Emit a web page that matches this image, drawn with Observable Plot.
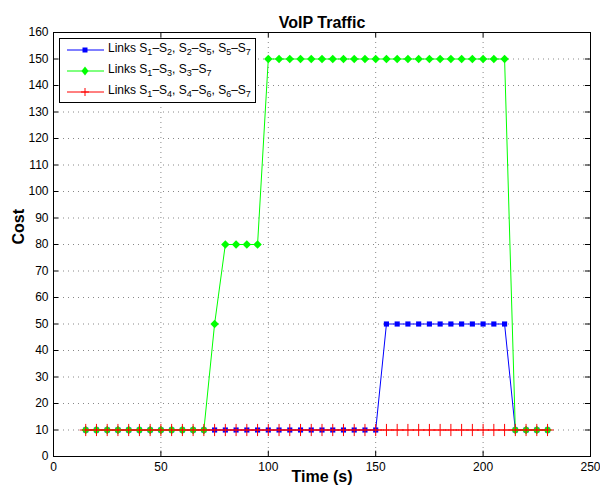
<!DOCTYPE html>
<html>
<head>
<meta charset="utf-8">
<script src="https://cdn.jsdelivr.net/npm/d3@7"></script>
<script src="https://cdn.jsdelivr.net/npm/@observablehq/plot@0.6"></script>
<style>
  html, body { margin: 0; padding: 0; background: #fff; }
  #wrap { position: relative; width: 600px; height: 491px; font-family: "Liberation Sans", Arial, Helvetica, sans-serif; }
  #legend { position: absolute; left: 59px; top: 38px; width: 195px; height: 63px; border: 1px solid #000; background: #fff; font-size: 12px; }
  .row { position: absolute; left: 0; height: 20px; width: 195px; }
  .row svg { position: absolute; left: 6px; top: 0; }
  .row span { position: absolute; left: 48px; top: 1px; white-space: nowrap; color: #000; }
  sub { font-size: 9px; vertical-align: -3px; line-height: 0; }
</style>
</head>
<body>
<div id="wrap"></div>
<script>
const time = [15,20,25,30,35,40,45,50,55,60,65,70,75,80,85,90,95,100,105,110,115,120,125,130,135,140,145,150,155,160,165,170,175,180,185,190,195,200,205,210,215,220,225,230];
const blueCost = [10,10,10,10,10,10,10,10,10,10,10,10,10,10,10,10,10,10,10,10,10,10,10,10,10,10,10,10,50,50,50,50,50,50,50,50,50,50,50,50,10,10,10,10];
const greenCost = [10,10,10,10,10,10,10,10,10,10,10,10,50,80,80,80,80,150,150,150,150,150,150,150,150,150,150,150,150,150,150,150,150,150,150,150,150,150,150,150,10,10,10,10];
const redCost = [10,10,10,10,10,10,10,10,10,10,10,10,10,10,10,10,10,10,10,10,10,10,10,10,10,10,10,10,10,10,10,10,10,10,10,10,10,10,10,10,10,10,10,10];
const xTicks = [0,50,100,150,200,250];
const yTicks = [0,10,20,30,40,50,60,70,80,90,100,110,120,130,140,150,160];
const seriesNames = ["blue","green","red"];
const colors = {blue: "#0000ff", green: "#00ff00", red: "#ff0000"};

const blue = time.map((t, i) => ({t, v: blueCost[i]}));
const green = time.map((t, i) => ({t, v: greenCost[i]}));
const red = time.map((t, i) => ({t, v: redCost[i]}));

const chart = Plot.plot({
  width: 600,
  height: 491,
  marginLeft: 53,
  marginRight: 10,
  marginTop: 32,
  marginBottom: 35,
  style: {fontFamily: "'Liberation Sans', Arial, Helvetica, sans-serif", fontSize: "12px", color: "#000", background: "#fff"},
  x: {domain: [0, 250], ticks: xTicks},
  y: {domain: [0, 160], ticks: yTicks},
  marks: [
    Plot.gridY(yTicks, {stroke: "#888", strokeOpacity: 1, strokeDasharray: "1,4"}),
    Plot.gridX(xTicks, {stroke: "#888", strokeOpacity: 1, strokeDasharray: "1,4"}),
    Plot.ruleX(xTicks, {x: d => d, y1: 0, y2: 2, stroke: "#000"}),
    Plot.ruleX(xTicks, {x: d => d, y1: 158, y2: 160, stroke: "#000"}),
    Plot.ruleY(yTicks, {y: d => d, x1: 0, x2: 2.4, stroke: "#000"}),
    Plot.ruleY(yTicks, {y: d => d, x1: 247.6, x2: 250, stroke: "#000"}),
    Plot.axisX(xTicks, {tickSize: 0, tickPadding: 6, label: null, fontSize: 12}),
    Plot.axisY(yTicks, {tickSize: 0, tickPadding: 5, label: null, fontSize: 12}),
    Plot.line(blue, {x: "t", y: "v", stroke: colors.blue, strokeWidth: 1}),
    Plot.dot(blue, {x: "t", y: "v", symbol: "square", fill: colors.blue, stroke: "none", r: 2.9}),
    Plot.line(green, {x: "t", y: "v", stroke: colors.green, strokeWidth: 1}),
    Plot.dot(green, {x: "t", y: "v", symbol: "diamond2", fill: colors.green, stroke: "none", r: 3.8}),
    Plot.line(red, {x: "t", y: "v", stroke: colors.red, strokeWidth: 1}),
    Plot.dot(red, {x: "t", y: "v", symbol: "plus", stroke: colors.red, fill: "none", strokeWidth: 1, r: 4}),
    Plot.frame({stroke: "#000"}),
    Plot.text(["VoIP Traffic"], {frameAnchor: "top", dy: -16, fontWeight: "bold", fontSize: 16}),
    Plot.text(["Time (s)"], {frameAnchor: "bottom", dy: 25, fontWeight: "bold", fontSize: 16}),
    Plot.text(["Cost"], {frameAnchor: "left", dx: -35, rotate: -90, fontWeight: "bold", fontSize: 16})
  ]
});

const wrap = document.getElementById("wrap");
wrap.appendChild(chart);

const legendLabels = [
  "Links S<sub>1</sub>–S<sub>2</sub>, S<sub>2</sub>–S<sub>5</sub>, S<sub>5</sub>–S<sub>7</sub>",
  "Links S<sub>1</sub>–S<sub>3</sub>, S<sub>3</sub>–S<sub>7</sub>",
  "Links S<sub>1</sub>–S<sub>4</sub>, S<sub>4</sub>–S<sub>6</sub>, S<sub>6</sub>–S<sub>7</sub>"
];
const markerSvg = {
  blue: '<rect x="16.5" y="7.5" width="5" height="5" fill="#0000ff"/>',
  green: '<path d="M19,5.5 L22.5,10 L19,14.5 L15.5,10 Z" fill="#00ff00"/>',
  red: '<path d="M19,6 V14 M15,10 H23" stroke="#ff0000" stroke-width="1"/>'
};
const legend = document.createElement("div");
legend.id = "legend";
seriesNames.forEach((s, i) => {
  const row = document.createElement("div");
  row.className = "row";
  row.style.top = (1 + i * 21) + "px";
  row.innerHTML = `<svg width="40" height="20"><line x1="1" y1="10" x2="38" y2="10" stroke="${colors[s]}" stroke-width="1"/>${markerSvg[s]}</svg><span>${legendLabels[i]}</span>`;
  legend.appendChild(row);
});
wrap.appendChild(legend);
</script>
</body>
</html>
